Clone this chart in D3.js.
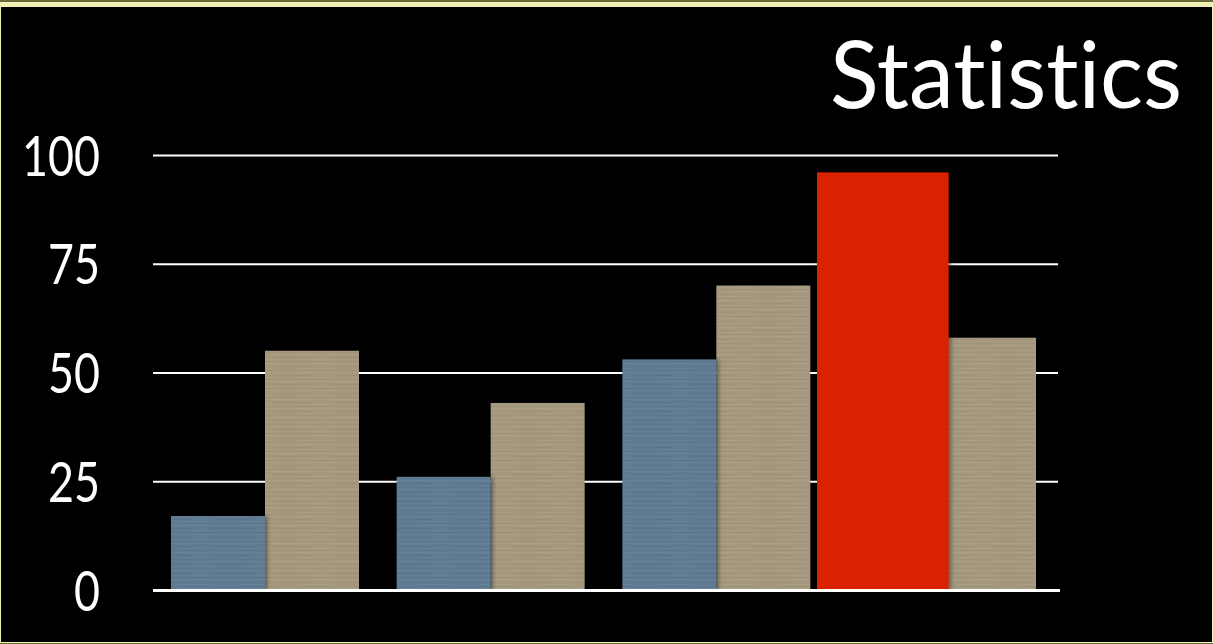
<!DOCTYPE html>
<html>
<head>
<meta charset="utf-8">
<script src="https://cdn.jsdelivr.net/npm/d3@7"></script>
<style>
  body { margin: 0; background: #000; }
  svg { display: block; }
  text { font-variant-ligatures: none; font-feature-settings: "liga" 0, "clig" 0; }
</style>
</head>
<body>
<div id="chart"></div>
<script>
// data
var groups = ["A", "B", "C", "D"];
var series = ["blue", "tan"];
var blueValues = [17, 26, 53, 96];
var tanValues = [55, 43, 70, 58];
var tickValues = [0, 25, 50, 75, 100];
var highlight = { group: "D", series: "blue" };
var title = "Statistics";

var svgWidth = 1213;
var svgHeight = 644;

var svg = d3.select("#chart")
  .append("svg")
  .attr("width", svgWidth)
  .attr("height", svgHeight);

// frame
svg.append("rect").attr("width", svgWidth).attr("height", svgHeight).attr("fill", "#6b6b3a");
svg.append("rect").attr("x", 0).attr("y", 2).attr("width", svgWidth).attr("height", 641).attr("fill", "#eef0b4");
svg.append("rect").attr("x", 1).attr("y", 7).attr("width", svgWidth - 2).attr("height", 635).attr("fill", "#000");

var defs = svg.append("defs");

// faint horizontal streak texture on the bars
function streakPattern(id, base, light, dark) {
  var p = defs.append("pattern")
    .attr("id", id)
    .attr("patternUnits", "userSpaceOnUse")
    .attr("width", 60)
    .attr("height", 9);
  p.append("rect").attr("width", 60).attr("height", 9).attr("fill", base);
  p.append("rect").attr("y", 1).attr("width", 60).attr("height", 1).attr("fill", light).attr("opacity", 0.5);
  p.append("rect").attr("y", 4).attr("width", 40).attr("height", 1).attr("fill", dark).attr("opacity", 0.4);
  p.append("rect").attr("y", 6).attr("x", 25).attr("width", 35).attr("height", 1).attr("fill", light).attr("opacity", 0.35);
  p.append("rect").attr("y", 8).attr("width", 60).attr("height", 1).attr("fill", dark).attr("opacity", 0.3);
}
streakPattern("blueTex", "#5f7b93", "#6d8aa1", "#52697d");
streakPattern("tanTex", "#a5987e", "#b1a58b", "#948870");

var shadow = defs.append("filter").attr("id", "shadow")
  .attr("x", "-10%").attr("y", "-10%").attr("width", "130%").attr("height", "120%");
shadow.append("feDropShadow")
  .attr("dx", 2).attr("dy", 0).attr("stdDeviation", 2)
  .attr("flood-color", "#000").attr("flood-opacity", 0.45);

var colors = { blue: "url(#blueTex)", tan: "url(#tanTex)" };
var highlightColor = "#d92000";

var margin = { top: 155, left: 153, right: 153, bottom: 54 };
var chartWidth = svgWidth - margin.left - margin.right; // 907
var chartHeight = svgHeight - margin.top - margin.bottom; // 435

var chartGroup = svg.append("g")
  .attr("transform", `translate(${margin.left}, ${margin.top})`);

var yScale = d3.scaleLinear()
  .domain([0, 100])
  .range([chartHeight, 0]);

var x0 = d3.scaleBand()
  .domain(groups)
  .range([18, 883])
  .paddingInner(0.167)
  .paddingOuter(0);

var x1 = d3.scaleBand()
  .domain(series)
  .range([0, x0.bandwidth()])
  .padding(0);

// gridlines + labels
var yAxis = chartGroup.append("g")
  .call(d3.axisLeft(yScale)
    .tickValues(tickValues)
    .tickSize(-(chartWidth - 2))
    .tickPadding(53)
    .tickFormat(d3.format("d")));

yAxis.select(".domain").remove();
yAxis.selectAll(".tick line")
  .attr("stroke", "#fff")
  .attr("stroke-width", 2);
yAxis.selectAll(".tick text")
  .attr("fill", "#fff")
  .attr("font-family", "Lato, 'Open Sans', sans-serif")
  .attr("font-size", 56)
  .attr("x", -53 / 0.8)
  .attr("dy", "0.36em")
  .attr("transform", "scale(0.8,1)");

var rows = [];
groups.forEach(function(g, i) {
  rows.push({ group: g, series: "tan", value: tanValues[i] });
  rows.push({ group: g, series: "blue", value: blueValues[i] });
});

function isHighlight(d) {
  return d.group === highlight.group && d.series === highlight.series;
}

// regular bars (tan first, blue casts a soft shadow on it)
chartGroup.selectAll("rect.bar")
  .data(rows.filter(d => !isHighlight(d)))
  .enter()
  .append("rect")
  .attr("class", "bar")
  .attr("x", d => x0(d.group) + x1(d.series))
  .attr("y", d => yScale(d.value))
  .attr("width", x1.bandwidth())
  .attr("height", d => chartHeight - yScale(d.value))
  .attr("fill", d => colors[d.series])
  .attr("filter", d => d.series === "blue" ? "url(#shadow)" : null);

// highlighted bar pulled out and enlarged
chartGroup.selectAll("rect.hl")
  .data(rows.filter(isHighlight))
  .enter()
  .append("rect")
  .attr("class", "hl")
  .attr("x", d => x0(d.group) + x1(d.series) - 0.33 * x1.bandwidth())
  .attr("y", d => yScale(d.value))
  .attr("width", x1.bandwidth() * 1.4)
  .attr("height", d => chartHeight - yScale(d.value))
  .attr("fill", highlightColor)
  .attr("filter", "url(#shadow)");

// baseline on top
chartGroup.append("line")
  .attr("x1", 0)
  .attr("x2", chartWidth)
  .attr("y1", yScale(0) + 0.5)
  .attr("y2", yScale(0) + 0.5)
  .attr("stroke", "#fff")
  .attr("stroke-width", 3);

// title
svg.append("text")
  .attr("x", 830)
  .attr("y", 108)
  .attr("fill", "#fff")
  .attr("font-family", "Lato, 'Open Sans', sans-serif")
  .attr("font-size", 94)
  .attr("textLength", 352)
  .attr("lengthAdjust", "spacingAndGlyphs")
  .text(title);
</script>
</body>
</html>
